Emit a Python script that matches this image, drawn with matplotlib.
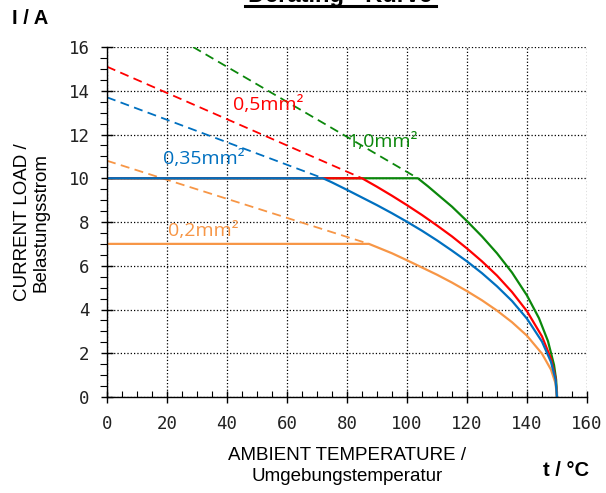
import matplotlib.pyplot as plt
from matplotlib.lines import Line2D
from matplotlib.ticker import MultipleLocator

# derating curves (t in degC, I in A)
t_10 = [0, 103.6, 107, 110, 115, 120, 125, 130, 135, 140, 144, 147, 149, 149.7, 150]
i_10 = [10, 10, 9.63, 9.28, 8.70, 8.04, 7.34, 6.57, 5.69, 4.64, 3.60, 2.55, 1.47, 0.80, 0]

t_05 = [0, 85, 90, 95, 100, 105, 110, 115, 120, 125, 130, 135, 140, 145, 148, 149.5, 150]
i_05 = [10, 10, 9.61, 9.20, 8.77, 8.32, 7.84, 7.34, 6.79, 6.20, 5.55, 4.80, 3.92, 2.77, 1.75, 0.88, 0]

t_035 = [0, 72, 75, 80, 85, 90, 95, 100, 105, 110, 115, 120, 125, 130, 135, 140, 145, 148, 149.5, 150]
i_035 = [10, 10, 9.81, 9.47, 9.12, 8.77, 8.40, 8.01, 7.60, 7.16, 6.69, 6.20, 5.66, 5.06, 4.39, 3.58, 2.53, 1.60, 0.80, 0]

t_02 = [0, 87.3, 90, 95, 100, 105, 110, 115, 120, 125, 130, 135, 140, 145, 148, 149.5, 150]
i_02 = [7, 7, 6.85, 6.57, 6.25, 5.92, 5.59, 5.23, 4.84, 4.42, 3.95, 3.42, 2.80, 1.98, 1.25, 0.63, 0]

# dashed extrapolations
dt_10, di_10 = [28.7, 103.6], [16, 10]
dt_05, di_05 = [0, 85], [15.1, 10]
dt_035, di_035 = [0, 72], [13.7, 10]
dt_02, di_02 = [0, 87.3], [10.8, 7.0]

green = '#0b870b'
red = '#ff0000'
blue = '#0070c0'
orange = '#f79646'

fig = plt.figure(figsize=(6.06, 4.93), dpi=100)
ax = fig.add_axes([107 / 606, 1 - 397 / 493, 480 / 606, 350 / 493])

dash = (5, 3)
ax.plot(dt_10, di_10, color=green, lw=1.3, dashes=dash)
ax.plot(dt_05, di_05, color=red, lw=1.3, dashes=dash)
ax.plot(dt_035, di_035, color=blue, lw=1.3, dashes=dash)
ax.plot(dt_02, di_02, color=orange, lw=1.3, dashes=dash)

ax.plot(t_10, i_10, color=green, lw=1.6)
ax.plot(t_05, i_05, color=red, lw=1.6)
ax.plot(t_02, i_02, color=orange, lw=1.6)
ax.plot(t_035, i_035, color=blue, lw=1.6)

ax.set_xlim(0, 160)
ax.set_ylim(0, 16)
ax.xaxis.set_major_locator(MultipleLocator(20))
ax.xaxis.set_minor_locator(MultipleLocator(5))
ax.yaxis.set_major_locator(MultipleLocator(2))
ax.yaxis.set_minor_locator(MultipleLocator(0.5))
ax.grid(True, which='major', color='black', linestyle=':', linewidth=0.9)
ax.set_axisbelow(True)

for s in ['top', 'right']:
    ax.spines[s].set_visible(False)
for s in ['left', 'bottom']:
    ax.spines[s].set_linewidth(1.0)

ax.tick_params(axis='x', which='major', direction='inout', length=8, width=1, pad=9)
ax.tick_params(axis='x', which='minor', direction='in', length=4, width=0.8)
ax.tick_params(axis='y', which='major', direction='inout', length=9, width=1, pad=8)
ax.tick_params(axis='y', which='minor', direction='out', length=5, width=0.8)
for lab in ax.get_xticklabels() + ax.get_yticklabels():
    lab.set_family('DejaVu Sans Mono')
    lab.set_fontsize(12.5)
    lab.set_color('#222222')

lbl_font = dict(family='Open Sans', fontsize=14, ha='center', va='center')
ax.text(53.7, 13.35, '0,5mm²', color=red, **lbl_font)
ax.text(91.7, 11.65, '1,0mm²', color=green, **lbl_font)
ax.text(32.3, 10.87, '0,35mm²', color=blue, **lbl_font)
ax.text(32.0, 7.57, '0,2mm²', color=orange, **lbl_font)

ax.set_xlabel('AMBIENT TEMPERATURE /\nUmgebungstemperatur', family='Liberation Sans',
              fontsize=13.5, labelpad=10, linespacing=1.35)
ax.set_ylabel('CURRENT LOAD /\nBelastungsstrom', family='Liberation Sans',
              fontsize=13.5, labelpad=14, linespacing=1.1)

fig.text(12 / 606, 1 - 18 / 493, 'I / A', family='Liberation Sans', fontsize=14.5,
         fontweight='bold', ha='left', va='center')
fig.text(566 / 606, 1 - 471 / 493, 't / °C', family='Liberation Sans', fontsize=14.5,
         fontweight='bold', ha='center', va='center')

# title, mostly cut off at the top edge
fig.text(340 / 606, 1 - 2 / 493, 'Derating - Kurve', family='Liberation Sans',
         fontsize=17, fontweight='bold', ha='center', va='baseline')
fig.add_artist(Line2D([245 / 606, 436 / 606], [1 - 5.5 / 493, 1 - 5.5 / 493],
                      transform=fig.transFigure, color='black', lw=2.2))

plt.savefig('out.png', dpi=100)
